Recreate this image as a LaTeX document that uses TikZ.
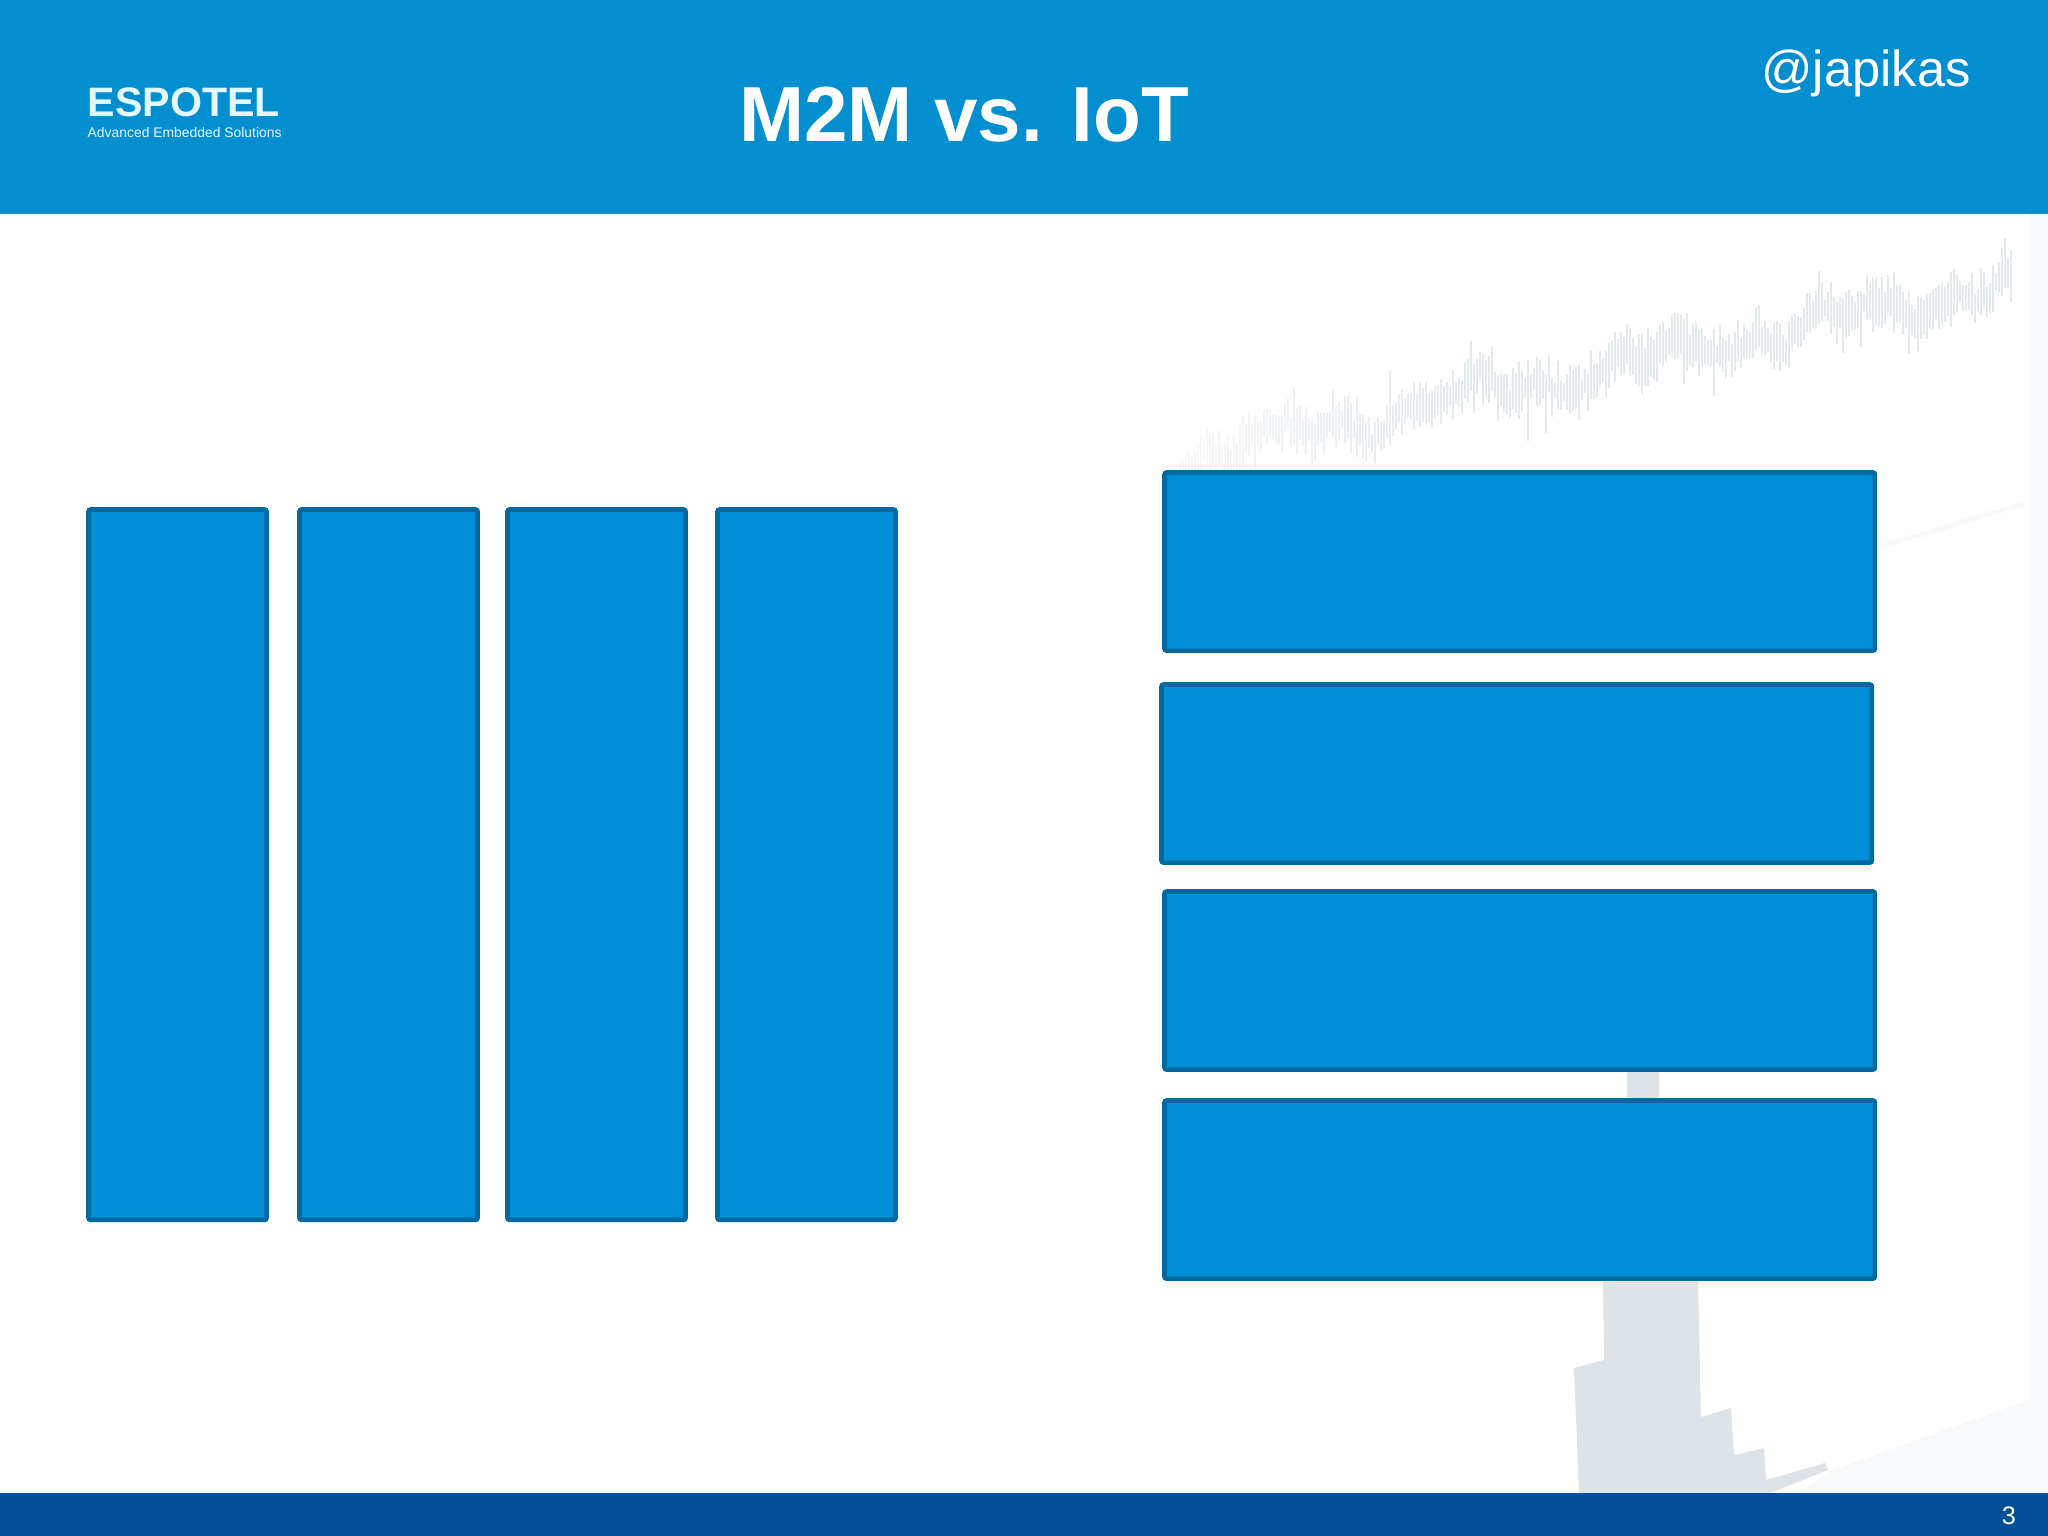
\documentclass[tikz,border=0pt]{standalone}
\usepackage{fontspec}
\setmainfont{Liberation Sans}
\definecolor{headblue}{HTML}{038ECF}
\definecolor{barblue}{HTML}{008FD6}
\definecolor{baredge}{HTML}{00699F}
\definecolor{footblue}{HTML}{045096}
\definecolor{wmgrey}{HTML}{DDE3E7}
\definecolor{wmpale}{HTML}{F7F9FB}
\definecolor{logowhite}{HTML}{E4F8FF}
\tikzset{
	vbar/.style={draw=baredge, fill=barblue, line width=1.3pt, rounded corners=0.6pt, anchor=north west, outer sep=0pt, minimum width=1.78cm, minimum height=7.10cm, inner sep=0pt},
	hbar/.style={draw=baredge, fill=barblue, line width=1.3pt, rounded corners=0.6pt, anchor=north west, outer sep=0pt, minimum width=7.10cm, minimum height=1.78cm, inner sep=0pt},
	headtext/.style={text=white, inner sep=0pt},
}

\begin{document}
\begin{tikzpicture}[x=0.01cm,y=-0.01cm]
	\useasboundingbox (0,0) rectangle (2048,1536);
	\fill[white] (0,0) rectangle (2048,1536);
	% watermark
	\fill[wmpale] (2030,214) rectangle (2048,1493);
	\fill[wmpale] (1832,1470) -- (2048,1393) -- (2048,1493) -- (1800,1493) -- cycle;
	\draw[wmpale, line width=1.5pt] (1880,547) -- (2025,503);
	\pgfmathsetseed{11}
	\foreach \xx in {1180,1183,...,2012} {
		\pgfmathsetmacro{\ybase}{460-0.215*(\xx-1179)+11*sin(1.9*\xx)+8*sin(5.3*\xx)+4*sin(7.7*\xx)}
		\pgfmathsetmacro{\rup}{5+20*rnd+60*rnd*rnd*rnd*rnd}
		\pgfmathsetmacro{\rdown}{5+20*rnd+60*rnd*rnd*rnd*rnd}
		\pgfmathsetmacro{\wmfade}{25+55*min(1,(\xx-1179)/300)}
		\draw[wmgrey!\wmfade!white, line width=0.8pt] (\xx,\ybase-\rup) -- (\xx,\ybase+\rdown);
	}
	\fill[wmgrey] (1627,1072) -- (1659,1072) -- (1659,1098) -- (1698,1282) -- (1701,1417) -- (1731,1408) -- (1734,1455) -- (1764,1448) -- (1766,1480) -- (1825,1463) -- (1828,1470) -- (1770,1493) -- (1579,1493) -- (1574,1368) -- (1604,1360) -- (1603,1282) -- (1627,1098) -- cycle;
	% header and footer
	\fill[headblue] (0,0) rectangle (2048,213);
	\draw[cyan!40!headblue, line width=0.4pt] (0,213.5) -- (2048,213.5);
	\fill[footblue] (0,1493) rectangle (2048,1536);
	\node[headtext, font=\bfseries\fontsize{22.2}{24}\selectfont] (title) at (964,115) {M2M vs. IoT};
	\node[headtext, font=\fontsize{14.4}{16}\selectfont] (handle) at (1866,73) {@japikas};
	\node[headtext, font=\fontsize{7.2}{8}\selectfont] (pagenum) at (2009,1516) {3};
	\node[headtext, text=logowhite, anchor=west, font=\bfseries\fontsize{11.7}{12}\selectfont] (logo) at (87,102) {ESPOTEL};
	\node[headtext, text=logowhite, anchor=west, font=\fontsize{3.95}{5}\selectfont] (slogan) at (87,133) {Advanced Embedded Solutions};
	% left group
	\node[vbar] (v1) at (88.5,509.5) {};
	\node[vbar] (v2) at (299.5,509.5) {};
	\node[vbar] (v3) at (507.5,509.5) {};
	\node[vbar] (v4) at (717.5,509.5) {};
	% right group
	\node[hbar] (h1) at (1164.5,472.5) {};
	\node[hbar] (h2) at (1161.5,684.5) {};
	\node[hbar] (h3) at (1164.5,891.5) {};
	\node[hbar] (h4) at (1164.5,1100.5) {};
\end{tikzpicture}
\end{document}
